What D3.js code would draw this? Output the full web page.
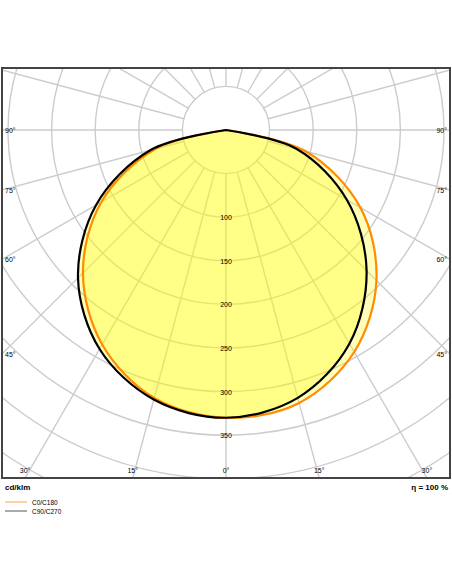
<!DOCTYPE html>
<html lang="en">
<head>
<meta charset="utf-8">
<title>LDC</title>
<script src="https://d3js.org/d3.v7.min.js" charset="utf-8"></script>
<style>
  body { margin: 0; background: #fff; }
  text { font-family: "Liberation Sans", Arial, sans-serif; }
</style>
</head>
<body>
<script>
// gamma angles (deg) and intensities in cd/klm
var gammas = [0, 15, 30, 45, 60, 75, 90];
var c0Left = [330, 318, 284, 232, 165, 84, 0];
var c0Right = [332, 324, 294, 244, 178, 95, 0];
var c90Left = [330, 320, 290, 240, 172, 90, 0];
var c90Right = [330, 318, 283, 228, 160, 84, 0];
var ringValues = [50, 100, 150, 200, 250, 300, 350, 400, 450, 500];
var ringLabels = [100, 150, 200, 250, 300, 350];
var sideLabels = [90, 75, 60, 45];
var bottomLabels = [-30, -15, 0, 15, 30];

var W = 452, H = 584;
var frame = {x: 2, y: 68, w: 448, h: 410};
var cx = 226, cy = 130;
var r = d3.scaleLinear().domain([0, 350]).range([0, 305.2]);
var rad = function (d) { return d * Math.PI / 180; };

var svg = d3.select('body').append('svg').attr('width', W).attr('height', H);
svg.append('clipPath').attr('id', 'clip').append('rect')
    .attr('x', frame.x).attr('y', frame.y).attr('width', frame.w).attr('height', frame.h);

var g = svg.append('g').attr('clip-path', 'url(#clip)');
var c = g.append('g').attr('transform', 'translate(' + cx + ',' + cy + ')');

// grid rings
c.selectAll('circle.ring').data(ringValues).enter().append('circle')
    .attr('r', function (d) { return r(d); })
    .style('fill', 'none').style('stroke', '#cccccc').style('stroke-width', 1.4);

// spokes every 15 degrees, starting at the innermost ring
c.selectAll('line.spoke').data(d3.range(0, 360, 15)).enter().append('line')
    .attr('x1', function (d) { return r(50) * Math.sin(rad(d)); })
    .attr('y1', function (d) { return r(50) * Math.cos(rad(d)); })
    .attr('x2', function (d) { return r(600) * Math.sin(rad(d)); })
    .attr('y2', function (d) { return r(600) * Math.cos(rad(d)); })
    .style('stroke', '#cccccc').style('stroke-width', 1.4);

// build a full curve from left 90 -> 0 -> right 90
function curvePoints(left, right) {
    var pts = [];
    for (var i = gammas.length - 1; i >= 0; i--) pts.push([Math.PI + rad(gammas[i]), r(left[i])]);
    for (i = 1; i < gammas.length; i++) pts.push([Math.PI - rad(gammas[i]), r(right[i])]);
    return pts;
}
var line = d3.lineRadial().curve(d3.curveCatmullRomClosed.alpha(0.5));

var curves = [
    {pts: curvePoints(c0Left, c0Right), color: '#ff8c00'},
    {pts: curvePoints(c90Left, c90Right), color: '#000000'}
];
curves.forEach(function (d) {
    c.append('path').attr('d', line(d.pts))
        .style('fill', '#ffff00').style('fill-opacity', 0.27).style('stroke', 'none');
});
curves.forEach(function (d) {
    c.append('path').attr('d', line(d.pts))
        .style('fill', 'none').style('stroke', d.color).style('stroke-width', 2.2);
});

// ring labels
c.selectAll('text.ring').data(ringLabels).enter().append('text')
    .attr('x', 0).attr('y', function (d) { return r(d) + 3; })
    .attr('text-anchor', 'middle').style('font-size', '7px').text(function (d) { return d; });

// frame
svg.append('rect').attr('x', frame.x).attr('y', frame.y).attr('width', frame.w).attr('height', frame.h)
    .style('fill', 'none').style('stroke', '#444').style('stroke-width', 2);

// side angle labels
sideLabels.forEach(function (a) {
    var y = a === 90 ? cy : cy + (cx - frame.x) / Math.tan(rad(a));
    svg.append('text').attr('x', 5).attr('y', y + 3).style('font-size', '7px').text(a + '°');
    svg.append('text').attr('x', 447).attr('y', y + 3).attr('text-anchor', 'end').style('font-size', '7px').text(a + '°');
});
bottomLabels.forEach(function (a) {
    var x = cx + (frame.y + frame.h - cy) * Math.tan(rad(a));
    svg.append('text').attr('x', x).attr('y', 473).attr('text-anchor', 'middle')
        .style('font-size', '7px').text(Math.abs(a) + '°');
});

svg.append('text').attr('x', 5).attr('y', 490).style('font-size', '8px').style('font-weight', 'bold').text('cd/klm');
svg.append('text').attr('x', 448).attr('y', 490).attr('text-anchor', 'end').style('font-size', '8px').style('font-weight', 'bold').text('η = 100 %');

var legend = [{name: 'C0/C180', color: '#ffa640'}, {name: 'C90/C270', color: '#555'}];
legend.forEach(function (d, i) {
    var y = 502 + i * 9;
    svg.append('line').attr('x1', 5).attr('x2', 27).attr('y1', y).attr('y2', y)
        .style('stroke', d.color).style('stroke-width', 1);
    svg.append('text').attr('x', 32).attr('y', y + 2.5).style('font-size', '6.5px').text(d.name);
});
</script>
</body>
</html>
